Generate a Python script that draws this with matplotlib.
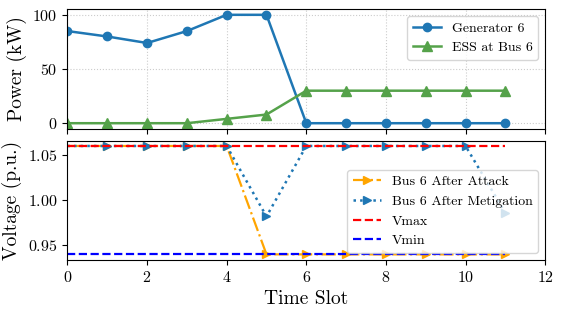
import matplotlib
matplotlib.use("Agg")
import matplotlib.pyplot as plt

plt.rcParams['font.family'] = 'serif'
plt.rcParams['font.serif'] = ['cmr10']
plt.rcParams['mathtext.fontset'] = 'cm'
plt.rcParams['axes.formatter.use_mathtext'] = True
plt.rcParams['axes.unicode_minus'] = False

# data
slots = list(range(12))
generator6 = [85, 80, 74, 85, 100, 100, 0, 0, 0, 0, 0, 0]
ess_bus6 = [0, 0, 0, 0, 4, 8, 30, 30, 30, 30, 30, 30]
v_attack = [1.06, 1.06, 1.06, 1.06, 1.06, 0.94, 0.94, 0.94, 0.94, 0.94, 0.94, 0.94]
v_mitigation = [1.06, 1.06, 1.06, 1.06, 1.06, 0.982, 1.06, 1.06, 1.06, 1.06, 1.06, 0.986]
v_max = [1.06] * 12
v_min = [0.94] * 12

fig, (ax1, ax2) = plt.subplots(2, 1, figsize=(5.62, 3.13), dpi=100, sharex=True)
fig.subplots_adjust(left=0.12, right=0.97, top=0.97, bottom=0.17, hspace=0.1)

ax1.plot(slots, generator6, '-o', color='#1f77b4', lw=1.8, ms=6, label='Generator 6')
ax1.plot(slots, ess_bus6, '-^', color='#55a24a', lw=1.8, ms=7, label='ESS at Bus 6')
ax1.set_ylabel('Power (kW)', fontsize=14)
ax1.grid(True, linestyle=':', color='#cccccc', lw=0.8)
ax1.legend(loc='upper right', fontsize=10)
ax1.tick_params(labelsize=11.5)

# markers start at slot 1 as in the original figure
ax2.plot(slots, v_attack, '-.>', color='orange', lw=1.6, ms=6, markevery=slice(1, None),
         label='Bus 6 After Attack')
ax2.plot(slots, v_mitigation, ':>', color='#1f77b4', lw=1.8, ms=6, markevery=slice(1, None),
         label='Bus 6 After Metigation')
ax2.plot(slots, v_max, '--', color='red', lw=1.6, label='Vmax')
ax2.plot(slots, v_min, '--', color='blue', lw=1.6, label='Vmin')
ax2.set_ylabel('Voltage (p.u.)', fontsize=14)
ax2.set_xlabel('Time Slot', fontsize=14)
ax2.set_xlim(0, 12)
ax2.set_xticks([0, 2, 4, 6, 8, 10, 12])
ax2.legend(loc='lower right', fontsize=10)
ax2.tick_params(labelsize=11.5)

plt.savefig('out.png', dpi=100)
